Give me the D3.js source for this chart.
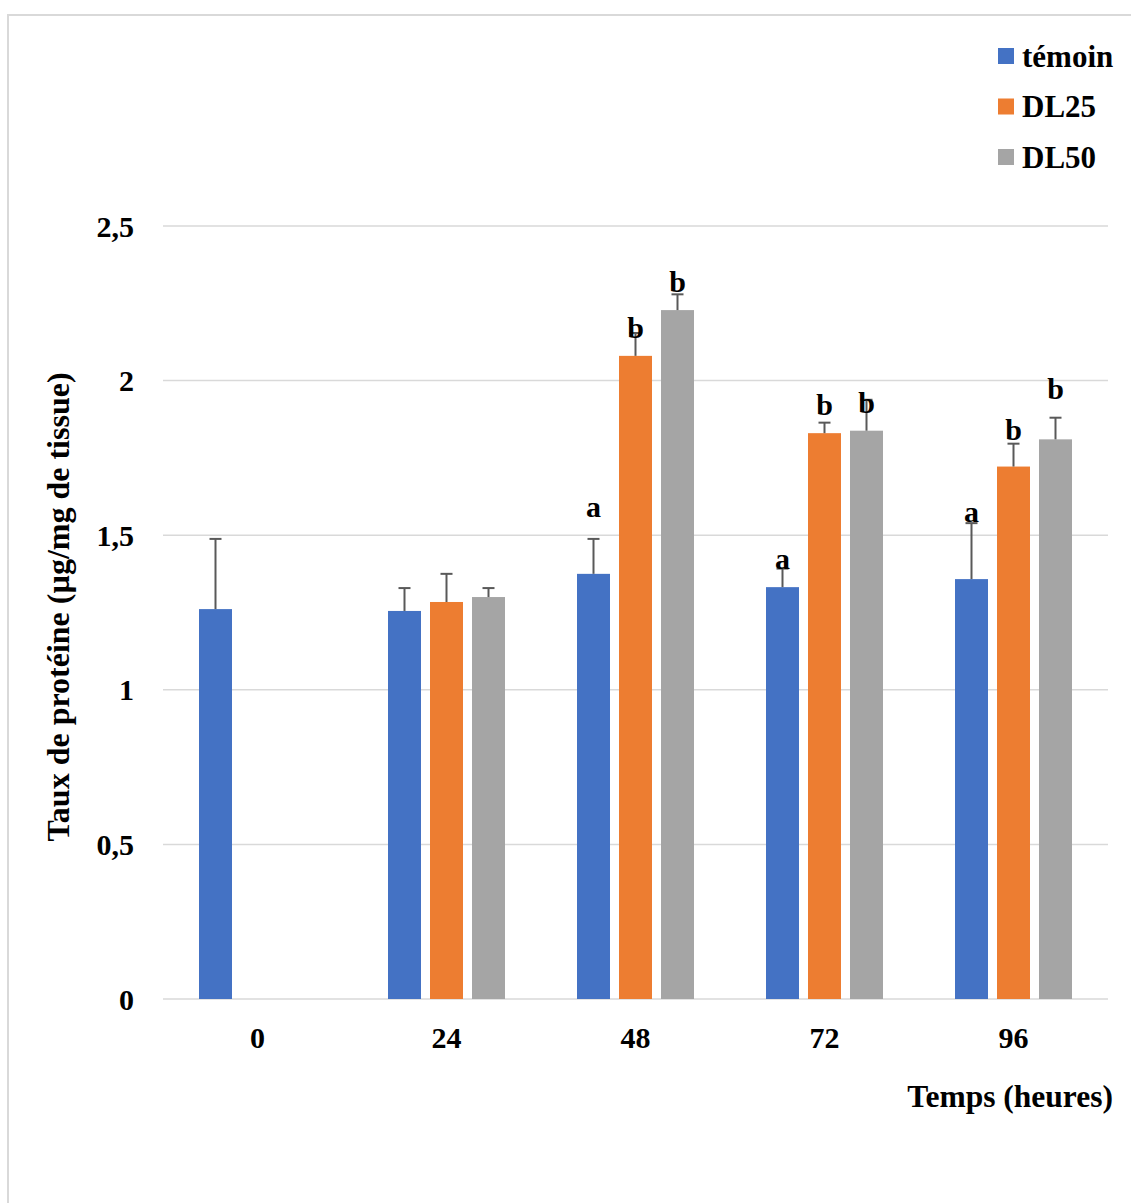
<!DOCTYPE html>
<html><head><meta charset="utf-8">
<script src="https://cdn.jsdelivr.net/npm/d3@7"></script>
<style>body{margin:0;background:#fff}svg{display:block}</style>
</head><body>
<script>
const categories = ["0","24","48","72","96"];
const seriesNames = ["témoin","DL25","DL50"];
const temoin = [1.261, 1.255, 1.375, 1.332, 1.358];
const dl25   = [null, 1.284, 2.080, 1.830, 1.722];
const dl50   = [null, 1.300, 2.228, 1.838, 1.810];
const temoinErr = [0.227, 0.074, 0.113, 0.060, 0.181];
const dl25Err   = [null, 0.091, 0.074, 0.034, 0.074];
const dl50Err   = [null, 0.029, 0.051, 0.100, 0.070];
const temoinLbl = [null, null, "a", "a", "a"];
const dl25Lbl   = [null, null, "b", "b", "b"];
const dl50Lbl   = [null, null, "b", "b", "b"];
const temoinLblAt = [null, null, 1.559, 1.391, 1.543];
const dl25LblAt   = [null, null, 2.138, 1.889, 1.808];
const dl50LblAt   = [null, null, 2.287, 1.895, 1.942];
const yTicks = [0, 0.5, 1, 1.5, 2, 2.5];
const yTickLabels = ["0","0,5","1","1,5","2","2,5"];
const xTitle = "Temps (heures)";
const yTitle = "Taux de protéine (µg/mg de tissue)";

(function(){
const colors = ["#4472C4","#ED7D31","#A5A5A5"];
const W = 1131, H = 1203;
const font = "'Liberation Serif','Times New Roman',serif";
const svg = d3.select("body").append("svg").attr("width", W).attr("height", H);

svg.append("rect").attr("x", 8).attr("y", 15).attr("width", W + 20).attr("height", H + 20)
  .attr("fill", "#fff").attr("stroke", "#d9d9d9").attr("stroke-width", 2);

const pLeft = 163, pRight = 1108, pTop = 226, pBottom = 999;
const x = d3.scaleBand().domain(categories).range([pLeft, pRight]).paddingInner(0).paddingOuter(0);
const y = d3.scaleLinear().domain([0, 2.5]).range([pBottom, pTop]);
const sub = d3.scaleBand().domain(seriesNames).range([-58.5, 58.5]).paddingInner(9/42).paddingOuter(0);

const series = [
  {name: seriesNames[0], v: temoin, e: temoinErr, l: temoinLbl, la: temoinLblAt},
  {name: seriesNames[1], v: dl25, e: dl25Err, l: dl25Lbl, la: dl25LblAt},
  {name: seriesNames[2], v: dl50, e: dl50Err, l: dl50Lbl, la: dl50LblAt}
];

svg.append("g").selectAll("line").data(yTicks).join("line")
  .attr("x1", pLeft).attr("x2", pRight)
  .attr("y1", d => y(d)).attr("y2", d => y(d))
  .attr("stroke", "#d9d9d9").attr("stroke-width", 1.5);

svg.append("g").selectAll("text").data(yTicks).join("text")
  .attr("x", 134).attr("y", d => y(d)).attr("dy", "0.35em")
  .attr("text-anchor", "end").attr("font-family", font).attr("font-weight", "bold")
  .attr("font-size", 30).text((d, i) => yTickLabels[i]);

svg.append("g").selectAll("text").data(categories).join("text")
  .attr("x", d => x(d) + x.bandwidth() / 2).attr("y", 1048)
  .attr("text-anchor", "middle").attr("font-family", font).attr("font-weight", "bold")
  .attr("font-size", 30).text(d => d);

const bw = sub.bandwidth();
series.forEach((s, si) => {
  const g = svg.append("g");
  const pts = categories.map((c, i) => ({c, v: s.v[i], e: s.e[i], l: s.l[i], la: s.la[i]})).filter(d => d.v != null);
  const cx = d => x(d.c) + x.bandwidth() / 2 + sub(s.name) + bw / 2;
  g.selectAll("rect").data(pts).join("rect")
    .attr("x", d => cx(d) - bw / 2).attr("width", bw)
    .attr("y", d => y(d.v)).attr("height", d => y(0) - y(d.v))
    .attr("fill", colors[si]);
  g.selectAll("line.eb").data(pts).join("line").attr("class", "eb")
    .attr("x1", cx).attr("x2", cx)
    .attr("y1", d => y(d.v)).attr("y2", d => y(d.v + d.e))
    .attr("stroke", "#595959").attr("stroke-width", 2);
  g.selectAll("line.cap").data(pts).join("line").attr("class", "cap")
    .attr("x1", d => cx(d) - 6).attr("x2", d => cx(d) + 6)
    .attr("y1", d => y(d.v + d.e)).attr("y2", d => y(d.v + d.e))
    .attr("stroke", "#595959").attr("stroke-width", 2);
  g.selectAll("text").data(pts.filter(d => d.l)).join("text")
    .attr("x", cx).attr("y", d => y(d.la))
    .attr("text-anchor", "middle").attr("font-family", font).attr("font-weight", "bold")
    .attr("font-size", 30).text(d => d.l);
});

const lg = svg.append("g");
seriesNames.forEach((n, i) => {
  const cy = 56 + i * 50.5;
  lg.append("rect").attr("x", 998).attr("y", cy - 8).attr("width", 16).attr("height", 16).attr("fill", colors[i]);
  lg.append("text").attr("x", 1022).attr("y", cy).attr("dy", "0.35em")
    .attr("font-family", font).attr("font-weight", "bold").attr("font-size", 31).text(n);
});

svg.append("text").attr("x", 1113).attr("y", 1107).attr("text-anchor", "end")
  .attr("font-family", font).attr("font-weight", "bold").attr("font-size", 31.5).text(xTitle);
svg.append("text").attr("transform", "translate(69,607) rotate(-90)").attr("text-anchor", "middle")
  .attr("font-family", font).attr("font-weight", "bold").attr("font-size", 32).text(yTitle);
})();
</script>
</body></html>
